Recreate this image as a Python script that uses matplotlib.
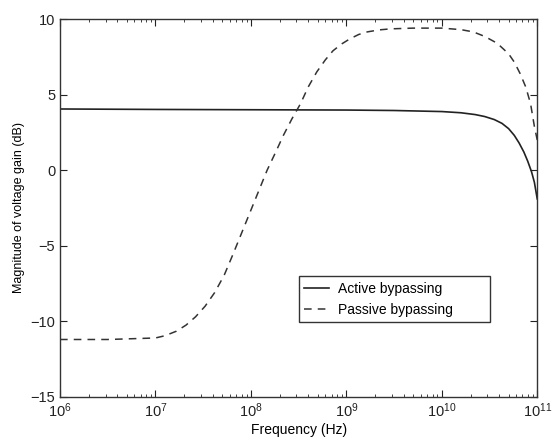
import numpy as np
import matplotlib.pyplot as plt
from matplotlib.ticker import LogLocator, NullFormatter

plt.rcParams['font.family'] = ['Liberation Sans', 'DejaVu Sans']

# valeurs (log10 de la fréquence, gain en dB)
active_logf = [6, 7, 8, 9, 9.5, 10.0, 10.2, 10.35, 10.45, 10.55, 10.63, 10.7,
               10.76, 10.81, 10.86, 10.9, 10.94, 10.97, 11.0]
active_db = [4.05, 4.02, 4.0, 3.98, 3.95, 3.88, 3.8, 3.68, 3.55, 3.35, 3.1,
             2.75, 2.3, 1.8, 1.2, 0.6, -0.1, -0.8, -1.9]

passive_logf = [6, 6.5, 7.0, 7.1, 7.22, 7.32, 7.42, 7.52, 7.62, 7.72, 7.81,
                7.9, 7.99, 8.08, 8.17, 8.26, 8.34, 8.43, 8.52, 8.6, 8.69, 8.78,
                8.86, 8.95, 9.04, 9.13, 9.22, 9.34, 9.46, 9.7, 10.0, 10.2,
                10.33, 10.45, 10.58, 10.70, 10.76, 10.82, 10.88, 10.93, 10.97,
                11.0]
passive_db = [-11.2, -11.2, -11.1, -10.95, -10.65, -10.25, -9.7, -9.0, -8.1,
              -6.95, -5.6, -4.2, -2.8, -1.4, 0.0, 1.2, 2.3, 3.4, 4.4, 5.5, 6.5,
              7.3, 7.9, 8.35, 8.7, 8.98, 9.15, 9.28, 9.35, 9.4, 9.4, 9.3, 9.15,
              8.85, 8.4, 7.7, 7.15, 6.4, 5.5, 4.4, 2.9, 2.0]

yticks = [-15, -10, -5, 0, 5, 10]

fig = plt.figure(figsize=(5.53, 4.43), dpi=100)
ax = fig.add_axes([0.1085, 0.104, 0.863, 0.853])

ax.semilogx(10.0 ** np.array(active_logf), active_db, color='#222222',
            lw=1.2, label='Active bypassing')
ax.semilogx(10.0 ** np.array(passive_logf), passive_db, color='#333333',
            lw=1.1, ls=(0, (5, 4)), label='Passive bypassing')

ax.set_xlim(1e6, 1e11)
ax.set_ylim(-15, 10)
ax.set_yticks(yticks)
ax.set_yticklabels([str(t).replace('-', '\u2212') for t in yticks])
ax.xaxis.set_major_locator(LogLocator(base=10, numticks=10))
ax.xaxis.set_minor_locator(LogLocator(base=10, subs=np.arange(2, 10), numticks=20))
ax.xaxis.set_minor_formatter(NullFormatter())
ax.tick_params(which='both', direction='in', top=True, right=True,
               labelsize=10.5, colors='#222222')
ax.tick_params(which='major', length=5)
ax.tick_params(which='minor', length=2.5)
for s in ax.spines.values():
    s.set_linewidth(1.0)
    s.set_color('#333333')

ax.set_xlabel('Frequency (Hz)', fontsize=10, labelpad=2)
ax.set_ylabel('Magnitude of voltage gain (dB)', fontsize=9, labelpad=4)

leg = ax.legend(loc='lower left', bbox_to_anchor=(0.50, 0.198, 0.40, 0.164),
                mode='expand', fontsize=10, handlelength=1.8, handletextpad=0.6,
                fancybox=False, framealpha=1, edgecolor='#333333',
                borderaxespad=0)
leg.get_frame().set_linewidth(1.0)

plt.savefig('out.png', dpi=100)
